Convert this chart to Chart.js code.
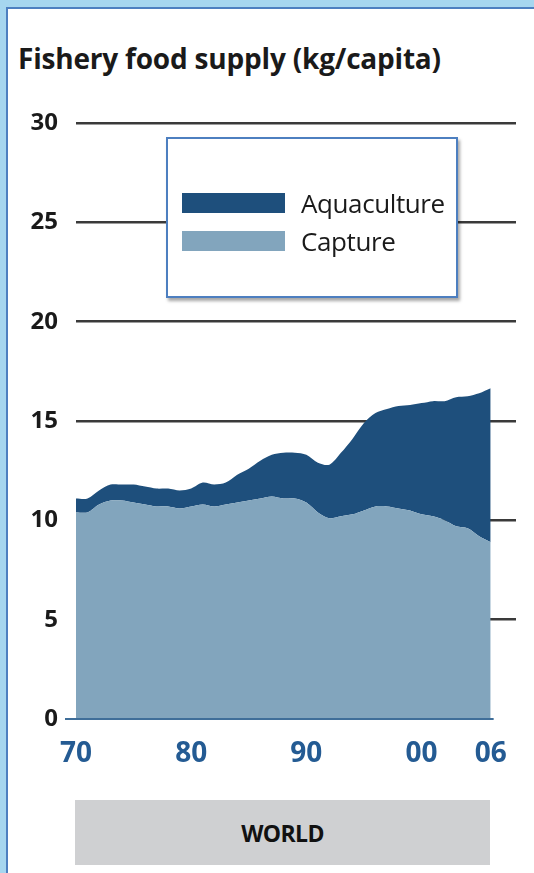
<!DOCTYPE html>
<html>
<head>
    <title>Fishery food supply</title>
    <meta charset="utf-8" />
    <script src="https://cdn.jsdelivr.net/npm/chart.js@4.4.1/dist/chart.umd.min.js"></script>
    <style>
        html, body {
            margin: 0;
            padding: 0;
            background: #a6d6ef;
        }
        #page {
            position: absolute;
            left: 6px;
            top: 7px;
            width: 528px;
            height: 866px;
            background: #fff;
            border-left: 2px solid #4d7fc0;
            border-top: 2px solid #4d7fc0;
            box-sizing: border-box;
        }
        #title {
            position: absolute;
            left: 18px;
            top: 39px;
            font: 700 28px "Open Sans", sans-serif;
            letter-spacing: -0.2px;
            color: #1a1a1a;
            white-space: nowrap;
        }
        #chart {
            position: absolute;
            left: 0;
            top: 0;
        }
        #legend {
            position: absolute;
            left: 166px;
            top: 137px;
            width: 292px;
            height: 161px;
            box-sizing: border-box;
            border: 2px solid #4d7fc0;
            background: #fff;
            box-shadow: 2px 3px 3px rgba(0,0,0,0.35);
            padding-top: 45px;
        }
        .item {
            height: 38px;
            display: flex;
            align-items: center;
            font: 400 26px "Open Sans", sans-serif;
            letter-spacing: -0.4px;
            color: #1a1a1a;
        }
        .swatch {
            width: 103px;
            height: 20px;
            margin-left: 14px;
            margin-right: 16px;
        }
        #region {
            position: absolute;
            left: 75px;
            top: 800px;
            width: 415px;
            height: 65px;
            background: #cfd0d2;
            font: 700 23px "Open Sans", sans-serif;
            letter-spacing: -0.6px;
            color: #111;
            display: flex;
            align-items: center;
            justify-content: center;
        }
    </style>
</head>
<body>
    <div id="page"></div>
    <div id="title">Fishery food supply (kg/capita)</div>
    <canvas id="chart" width="534" height="873"></canvas>
    <div id="legend"></div>
    <div id="region">WORLD</div>

    <script>
        const years = [1970, 1971, 1972, 1973, 1974, 1975, 1976, 1977, 1978, 1979,
                       1980, 1981, 1982, 1983, 1984, 1985, 1986, 1987, 1988, 1989,
                       1990, 1991, 1992, 1993, 1994, 1995, 1996, 1997, 1998, 1999,
                       2000, 2001, 2002, 2003, 2004, 2005, 2006];

        // capture supply, kg/capita
        const capture = [10.4, 10.4, 10.8, 11.0, 11.0, 10.9, 10.8, 10.7, 10.7, 10.6,
                         10.7, 10.8, 10.7, 10.8, 10.9, 11.0, 11.1, 11.2, 11.1, 11.1,
                         10.9, 10.4, 10.1, 10.2, 10.3, 10.5, 10.7, 10.7, 10.6, 10.5,
                         10.3, 10.2, 10.0, 9.7, 9.6, 9.2, 8.9];

        // aquaculture supply, kg/capita (stacked on capture)
        const aquaculture = [0.7, 0.7, 0.7, 0.8, 0.8, 0.9, 0.9, 0.9, 0.9, 0.9,
                             0.9, 1.1, 1.1, 1.1, 1.4, 1.6, 1.9, 2.1, 2.3, 2.3,
                             2.4, 2.5, 2.7, 3.2, 3.8, 4.4, 4.7, 4.9, 5.15, 5.3,
                             5.6, 5.8, 6.0, 6.5, 6.65, 7.2, 7.75];

        const xTicks = [1970, 1980, 1990, 2000, 2006];
        const yTicks = [0, 5, 10, 15, 20, 25, 30];

        const seriesNames = ['Capture', 'Aquaculture'];
        const seriesColors = ['#82a5bd', '#1e4f7c'];

        const baseline = {
            id: 'baseline',
            afterDatasetsDraw(chart) {
                const x = chart.scales.x, y = chart.scales.y;
                const ctx = chart.ctx;
                ctx.save();
                ctx.strokeStyle = '#3f6e99';
                ctx.lineWidth = 2;
                ctx.beginPath();
                ctx.moveTo(x.getPixelForValue(years[0]) - 11, y.getPixelForValue(0));
                ctx.lineTo(x.getPixelForValue(years[years.length - 1]) + 3, y.getPixelForValue(0));
                ctx.stroke();
                ctx.restore();
            }
        };

        const chart = new Chart(document.getElementById('chart'), {
            type: 'line',
            data: {
                datasets: [
                    {
                        label: seriesNames[0],
                        data: years.map((yr, i) => ({x: yr, y: capture[i]})),
                        backgroundColor: seriesColors[0],
                        fill: 'origin'
                    },
                    {
                        label: seriesNames[1],
                        data: years.map((yr, i) => ({x: yr, y: aquaculture[i]})),
                        backgroundColor: seriesColors[1],
                        fill: '-1'
                    }
                ]
            },
            options: {
                responsive: false,
                animation: false,
                elements: {
                    point: { radius: 0 },
                    line: { borderWidth: 0, tension: 0.3 }
                },
                layout: {
                    padding: { top: 123, left: 0, right: 18, bottom: 94 }
                },
                plugins: {
                    legend: { display: false },
                    tooltip: { enabled: false }
                },
                scales: {
                    x: {
                        type: 'linear',
                        min: 1970,
                        max: 2008.2,
                        afterBuildTicks: s => { s.ticks = xTicks.map(v => ({value: v})); },
                        afterFit: s => { s.height = 60; },
                        grid: { display: false, drawTicks: false },
                        border: { display: false },
                        ticks: {
                            padding: 18,
                            maxRotation: 0,
                            autoSkip: false,
                            color: '#245b93',
                            font: { family: 'Open Sans', weight: 'bold', size: 28 },
                            callback: v => String(v).slice(2)
                        }
                    },
                    y: {
                        stacked: true,
                        min: 0,
                        max: 30,
                        afterBuildTicks: s => { s.ticks = yTicks.map(v => ({value: v})); },
                        afterFit: s => { s.width = 76; },
                        border: { display: false },
                        grid: {
                            color: c => c.tick.value === 0 ? 'rgba(0,0,0,0)' : '#3a3a3a',
                            lineWidth: 2.5,
                            tickLength: 11,
                            tickColor: 'rgba(0,0,0,0)'
                        },
                        ticks: {
                            padding: 7,
                            color: '#1a1a1a',
                            font: { family: 'Open Sans', weight: 'bold', size: 24 }
                        }
                    }
                }
            },
            plugins: [baseline]
        });

        // legend, top entry first as in the original
        const legend = document.getElementById('legend');
        chart.data.datasets.slice().reverse().forEach(ds => {
            const item = document.createElement('div');
            item.className = 'item';
            const sw = document.createElement('div');
            sw.className = 'swatch';
            sw.style.background = ds.backgroundColor;
            item.appendChild(sw);
            item.appendChild(document.createTextNode(ds.label));
            legend.appendChild(item);
        });
    </script>
</body>
</html>
